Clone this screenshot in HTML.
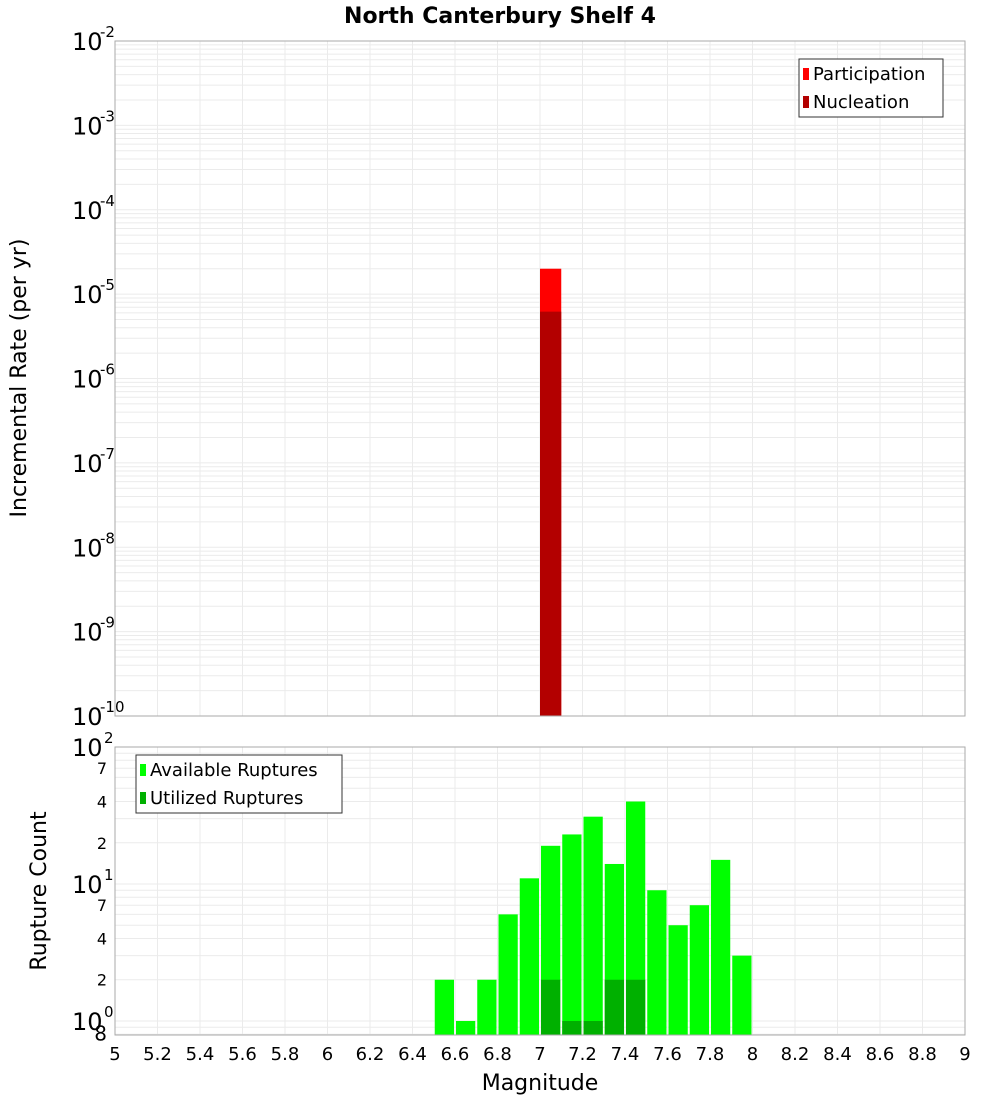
<!DOCTYPE html>
<html><head><meta charset="utf-8">
<style>
body{margin:0;background:#fff;font-family:"DejaVu Sans","Liberation Sans",sans-serif;}
svg text{font-family:"DejaVu Sans","Liberation Sans",sans-serif;}
</style></head>
<body>
<svg id="chart" width="1000" height="1100" xmlns="http://www.w3.org/2000/svg">
<text x="500" y="23" text-anchor="middle" font-size="22" font-weight="bold">North Canterbury Shelf 4</text>
<g id="top"></g>
<g id="bot"></g>
<text transform="translate(26,378) rotate(-90)" text-anchor="middle" font-size="22">Incremental Rate (per yr)</text>
<text transform="translate(46,891) rotate(-90)" text-anchor="middle" font-size="22">Rupture Count</text>
<text x="540" y="1090" text-anchor="middle" font-size="22">Magnitude</text>
</svg>
<script>
const binStarts=[6.5,6.6,6.7,6.8,6.9,7.0,7.1,7.2,7.3,7.4,7.5,7.6,7.7,7.8,7.9];
const availCounts=[2,1,2,6,11,19,23,31,14,40,9,5,7,15,3];
const usedCounts=[0,0,0,0,0,2,1,1,2,2,0,0,0,0,0];
const rateBins=[7.0];
const partRates=[2e-5];
const nuclRates=[6.2e-6];
const xTicks=[5,5.2,5.4,5.6,5.8,6,6.2,6.4,6.6,6.8,7,7.2,7.4,7.6,7.8,8,8.2,8.4,8.6,8.8,9];
const rateExps=[-2,-3,-4,-5,-6,-7,-8,-9,-10];
const countTickVals=[100,70,40,20,10,7,4,2,1,0.8];
const countTickLabels=["10^2","7","4","2","10^1","7","4","2","10^0","8"];

const NS="http://www.w3.org/2000/svg";
const L=115,R=965;
const X=m=>L+(m-5)/4*(R-L);
const T0=41,T1=716;
const Yt=v=>T0+(-2-Math.log10(v))/8*(T1-T0);
const B0=747,B1=1035,BMIN=0.79,BMAX=100;
const Yb=v=>B0+(Math.log10(BMAX)-Math.log10(v))/(Math.log10(BMAX)-Math.log10(BMIN))*(B1-B0);
function el(t,a,p){const e=document.createElementNS(NS,t);for(const k in a)e.setAttribute(k,a[k]);p.appendChild(e);return e;}
const topG=document.getElementById('top'),botG=document.getElementById('bot');

for(const m of xTicks){
 const g1=el('line',{x1:X(m),x2:X(m),y1:T0,y2:T1,stroke:'#ebebeb'},topG);
 
 
 const g2=el('line',{x1:X(m),x2:X(m),y1:B0,y2:B1,stroke:'#ebebeb'},botG);
 
 
}
for(let e=-10;e<-2;e++)for(let k=1;k<10;k++){
 const y=Yt(k*Math.pow(10,e));
 const g=el('line',{x1:L,x2:R,y1:y,y2:y,stroke:'#ebebeb'},topG);
 
 
}
for(let e=-1;e<2;e++)for(let k=1;k<10;k++){
 const v=k*Math.pow(10,e); if(v<BMIN||v>BMAX)continue;
 const y=Yb(v);
 const g=el('line',{x1:L,x2:R,y1:y,y2:y,stroke:'#ebebeb'},botG);
 
 
}
rateBins.forEach((b,i)=>{
 const r1=el('rect',{x:X(b),width:X(b+0.1)-X(b),y:Yt(partRates[i]),height:T1-Yt(partRates[i]),fill:'#ff0000'},topG);
 
 
 const r2=el('rect',{x:X(b),width:X(b+0.1)-X(b),y:Yt(nuclRates[i]),height:T1-Yt(nuclRates[i]),fill:'#b30000'},topG);
 
 
});
binStarts.forEach((b,i)=>{
 const x=X(b)+1,w=X(b+0.1)-X(b)-2;
 const r=el('rect',{x:x,width:w,y:Yb(availCounts[i]),height:B1-Yb(availCounts[i]),fill:'#00ff00'},botG);
 
 
 if(usedCounts[i]>0){
  const u=el('rect',{x:x,width:w,y:Yb(usedCounts[i]),height:B1-Yb(usedCounts[i]),fill:'#00b000'},botG);
  
  
 }
});
const f1=el('rect',{x:L,y:T0,width:R-L,height:T1-T0,fill:'none',stroke:'#aaa'},topG);


const f2=el('rect',{x:L,y:B0,width:R-L,height:B1-B0,fill:'none',stroke:'#aaa'},botG);


for(const m of xTicks){
 const t=el('text',{x:X(m),y:1060,'text-anchor':'middle','font-size':18},botG);
 t.textContent=String(m);
 
 
}
for(const e of rateExps){
 const y=Yt(Math.pow(10,e));
 const t=el('text',{x:72,y:y+9,'font-size':24},topG);
 t.textContent='10';
 
 
 const s=el('text',{x:100,y:y-4,'font-size':15},topG);
 s.textContent=String(e);
 
 
}
countTickVals.forEach((v,i)=>{
 const y=Yb(v),lab=countTickLabels[i];
 if(lab.indexOf('^')>=0){
  const t=el('text',{x:72,y:y+9,'font-size':24},botG);
  t.textContent='10';
  
  
  const s=el('text',{x:104,y:y-4,'font-size':15},botG);
  s.textContent=lab.split('^')[1];
  
  
 }else{
  const t=el('text',{x:107,y:y+6,'text-anchor':'end','font-size':(v===0.8?20:16)},botG);
  t.textContent=lab;
  
  
 }
});
function legend(p,x,y,w,items,name){
 const g=el('g',{},p);
 
 
 el('rect',{x:x,y:y,width:w,height:58,fill:'#fff',stroke:'#333'},g);
 items.forEach((it,i)=>{
  const sw=el('rect',{x:x+4,y:y+9+i*28,width:6,height:12,fill:it[1]},g);
  
  
  const t=el('text',{x:x+14,y:y+21+i*28,'font-size':18},g);
  t.textContent=it[0];
  
  
 });
}
legend(topG,799,59,144,[['Participation','#ff0000'],['Nucleation','#b30000']],'rate-legend');
legend(botG,136,755,206,[['Available Ruptures','#00ff00'],['Utilized Ruptures','#00b000']],'count-legend');
</script>
</body></html>
